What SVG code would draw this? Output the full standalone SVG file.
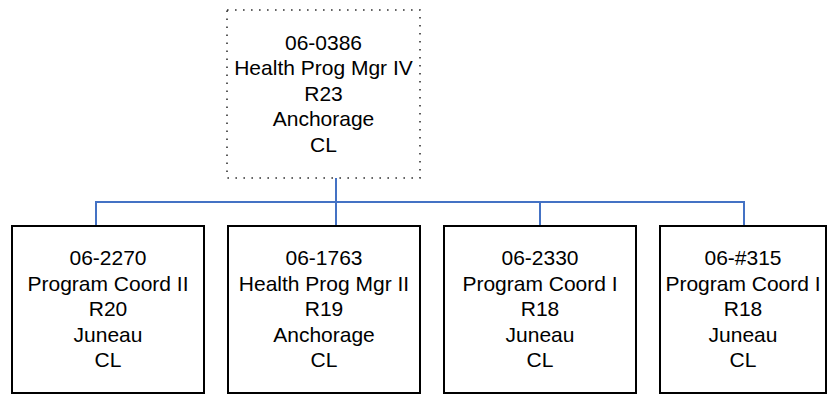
<svg xmlns="http://www.w3.org/2000/svg" width="828" height="395" viewBox="0 0 828 395">
<style>
.box{fill:#fff;stroke:#000;stroke-width:2}
.dot{fill:#fff;stroke:#333;stroke-width:1.6;stroke-dasharray:1.6 6.4}
.conn{fill:none;stroke:#4472C4;stroke-width:2}
text{font-family:"Liberation Sans",Arial,sans-serif;font-size:21px;fill:#000;text-anchor:middle}
</style>
<rect width="828" height="395" fill="#fff"/>
<g id="connectors">
<path class="conn" d="M336,178 V202 M96,226 V202 H744 V226 M336,202 V226 M540,202 V226"/>
</g>
<g id="n0386">
<rect class="dot" x="227" y="10" width="193" height="168"/>
<text x="323.5" y="49.5">06-0386</text>
<text x="323.5" y="75">Health Prog Mgr IV</text>
<text x="323.5" y="100.5">R23</text>
<text x="323.5" y="126">Anchorage</text>
<text x="323.5" y="151.5">CL</text>
</g>
<g id="n2270">
<rect class="box" x="12" y="226" width="192" height="167"/>
<text x="108" y="265">06-2270</text>
<text x="108" y="290.5">Program Coord II</text>
<text x="108" y="316">R20</text>
<text x="108" y="341.5">Juneau</text>
<text x="108" y="367">CL</text>
</g>
<g id="n1763">
<rect class="box" x="228" y="226" width="192" height="167"/>
<text x="324" y="265">06-1763</text>
<text x="324" y="290.5">Health Prog Mgr II</text>
<text x="324" y="316">R19</text>
<text x="324" y="341.5">Anchorage</text>
<text x="324" y="367">CL</text>
</g>
<g id="n2330">
<rect class="box" x="444" y="226" width="192" height="167"/>
<text x="540" y="265">06-2330</text>
<text x="540" y="290.5">Program Coord I</text>
<text x="540" y="316">R18</text>
<text x="540" y="341.5">Juneau</text>
<text x="540" y="367">CL</text>
</g>
<g id="n315">
<rect class="box" x="660" y="226" width="166" height="167"/>
<text x="743" y="265">06-#315</text>
<text x="743" y="290.5">Program Coord I</text>
<text x="743" y="316">R18</text>
<text x="743" y="341.5">Juneau</text>
<text x="743" y="367">CL</text>
</g>
</svg>
